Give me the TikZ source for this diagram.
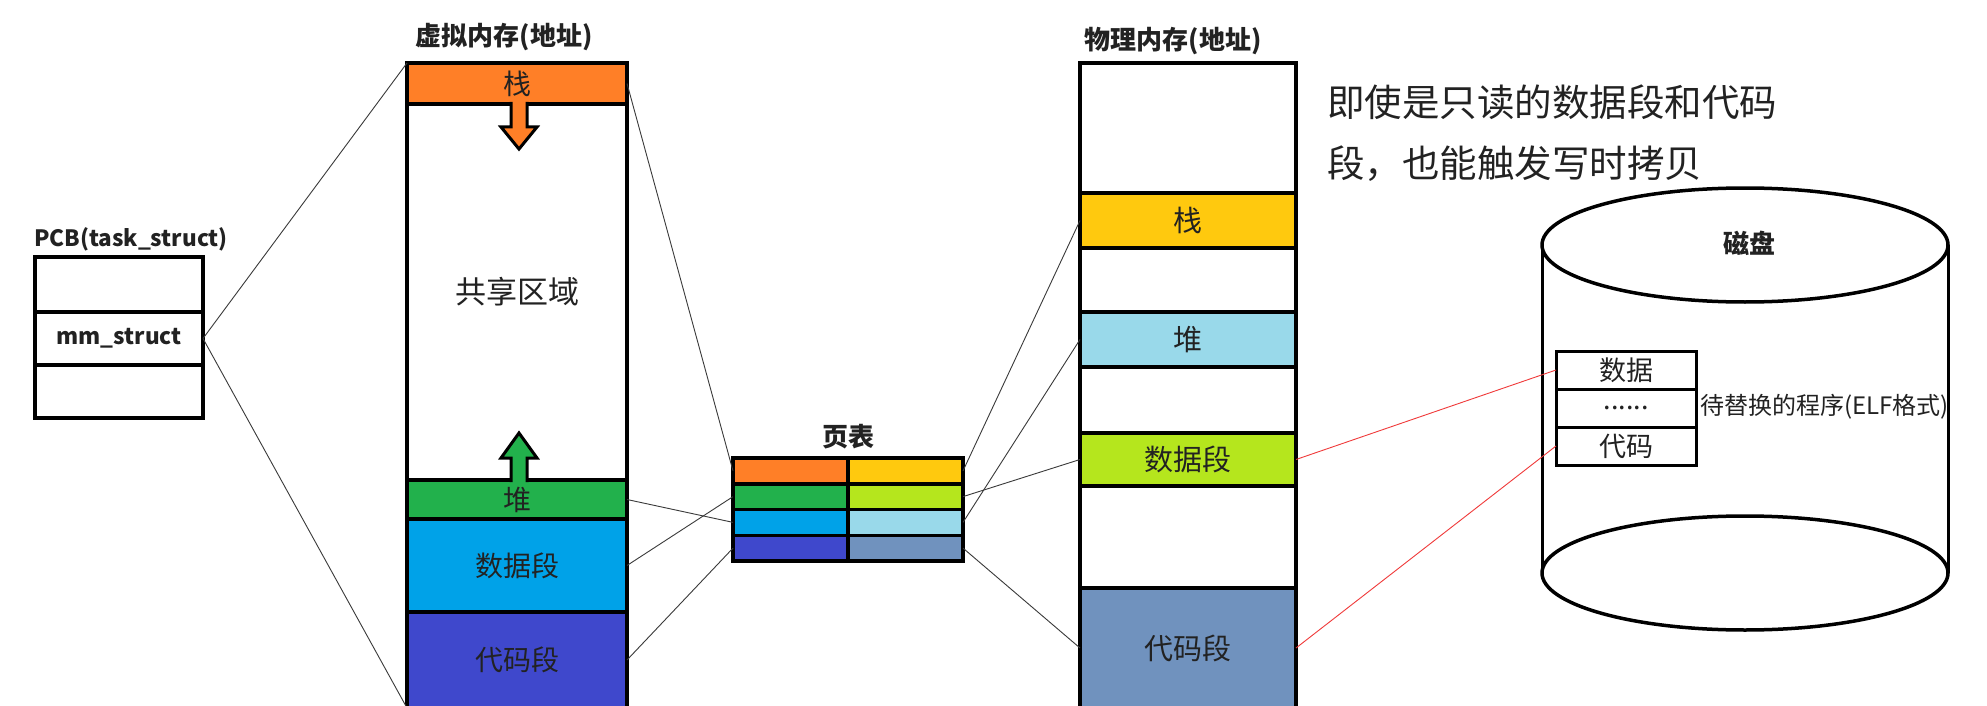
\documentclass[tikz,border=0pt]{standalone}
\usepackage{fontspec}
\setmainfont{Noto Sans CJK SC}
\usetikzlibrary{positioning}
\definecolor{PaintOrange}{HTML}{FF7F27}
\definecolor{PaintGold}{HTML}{FFC90E}
\definecolor{PaintGreen}{HTML}{22B14C}
\definecolor{PaintLime}{HTML}{B5E61D}
\definecolor{PaintCyan}{HTML}{00A2E8}
\definecolor{PaintSky}{HTML}{99D9EA}
\definecolor{PaintIndigo}{HTML}{3F48CC}
\definecolor{PaintSteel}{HTML}{7092BE}
\definecolor{InkGray}{HTML}{222222}
\definecolor{LinkGray}{HTML}{3A3A3A}
\definecolor{CowRed}{HTML}{F03A3A}

\begin{document}
\begin{tikzpicture}[x=1pt,y=-1pt,
    every node/.style={inner sep=0pt,outer sep=0pt,text=InkGray},
    seg/.style={draw,line width=3.5pt,minimum width=220pt,anchor=north west,font=\fontsize{28}{30}\selectfont},
    pseg/.style={seg,minimum width=216pt,font=\fontsize{29}{31}\selectfont},
    pcbrow/.style={draw,line width=3.5pt,minimum width=168pt,anchor=north west,font=\bfseries\fontsize{22.5}{26}\selectfont},
    cell/.style={draw,line width=3.5pt,minimum width=115pt,minimum height=25.75pt,anchor=north west},
    elfrow/.style={draw,line width=3pt,minimum width=140pt,minimum height=38pt,anchor=north west,font=\fontsize{27}{30}\selectfont},
    ttl/.style={font=\bfseries\fontsize{26}{30}\selectfont},
    growarrow/.style={draw=black,line width=3pt,line join=miter},
    link/.style={draw=LinkGray,line width=0.9pt},
    cow/.style={draw=CowRed,line width=0.9pt}
  ]
    \useasboundingbox[fill=white] (0,0) rectangle (1987,706);

    % virtual address space
    \node[ttl] (vtitle) at (504,37) {虚拟内存(地址)};
    \node[seg,fill=PaintOrange,minimum height=41pt] (vstack) at (407,63) {栈};
    \node[seg,below=0pt of vstack,minimum height=376pt,font=\fontsize{31}{34}\selectfont] (vshared) {共享区域};
    \node[seg,fill=PaintGreen,below=0pt of vshared,minimum height=39pt] (vheap) {堆};
    \node[seg,fill=PaintCyan,below=0pt of vheap,minimum height=93pt] (vdata) {数据段};
    \node[seg,fill=PaintIndigo,below=0pt of vdata,minimum height=96pt] (vcode) {代码段};
    \draw[growarrow,fill=PaintOrange] (511,102) -- (511,127) -- (501,127) -- (519,149) -- (537,127) -- (527,127) -- (527,102);
    \draw[growarrow,fill=PaintGreen] (511,482) -- (511,458) -- (501,458) -- (519,433) -- (537,458) -- (527,458) -- (527,482);

    % PCB
    \node[ttl,font=\bfseries\fontsize{22.5}{26}\selectfont] (pcbtitle) at (131,239) {PCB(task\_struct)};
    \node[pcbrow,minimum height=55pt] (pcb1) at (35,257) {};
    \node[pcbrow,below=0pt of pcb1,minimum height=53pt] (pcbmm) {\raisebox{-5pt}{mm\_struct}};
    \node[pcbrow,below=0pt of pcbmm,minimum height=53pt] (pcb3) {};

    % page table
    \node[ttl] (pttitle) at (848,437) {页表};
    \foreach \r/\lc/\rc in {1/PaintOrange/PaintGold,2/PaintGreen/PaintLime,3/PaintCyan/PaintSky,4/PaintIndigo/PaintSteel}{
      \node[cell,fill=\lc] (ptl\r) at (733,{458+(\r-1)*25.75}) {};
      \node[cell,fill=\rc,right=0pt of ptl\r] (ptr\r) {};
    }

    % physical memory
    \node[ttl] (ptitle) at (1173,41) {物理内存(地址)};
    \node[pseg,minimum height=130pt] (pfree1) at (1080,63) {};
    \node[pseg,fill=PaintGold,below=0pt of pfree1,minimum height=55pt] (pstack) {栈};
    \node[pseg,below=0pt of pstack,minimum height=64pt] (pfree2) {};
    \node[pseg,fill=PaintSky,below=0pt of pfree2,minimum height=55pt] (pheap) {堆};
    \node[pseg,below=0pt of pheap,minimum height=66pt] (pfree3) {};
    \node[pseg,fill=PaintLime,below=0pt of pfree3,minimum height=53pt] (pdata) {数据段};
    \node[pseg,below=0pt of pdata,minimum height=102pt] (pfree4) {};
    \node[pseg,fill=PaintSteel,below=0pt of pfree4,minimum height=120pt] (pcode) {代码段};

    \node[anchor=west,align=left,font=\fontsize{37.5}{61}\selectfont] (note) at (1327,133) {即使是只读的数据段和代码\\段，也能触发写时拷贝};

    % disk
    \draw[line width=3pt] (1542,245) -- (1542,573) (1948,245) -- (1948,573);
    \draw[line width=3.5pt,fill=white] (1745,245) ellipse [x radius=203,y radius=57];
    \draw[line width=3.5pt] (1745,573) ellipse [x radius=203,y radius=57];
    \node[ttl] (disk) at (1749,243) {磁盘};
    \node[elfrow] (ddata) at (1556,351) {数据};
    \node[elfrow,below=0pt of ddata] (ddots) {......};
    \node[elfrow,below=0pt of ddots] (dcode) {代码};
    \node[anchor=west,font=\fontsize{24}{28}\selectfont] (elf) at (1700,407) {待替换的程序(ELF格式)};

    % mappings
    \draw[link] (pcbmm.east) -- (vstack.north west);
    \draw[link] (pcbmm.east) -- (vcode.south west);
    \draw[link] (vstack.east) -- (ptl1.west);
    \draw[link] (vheap.east) -- (ptl3.west);
    \draw[link] (vdata.east) -- (ptl2.west);
    \draw[link] (vcode.east) -- (ptl4.west);
    \draw[link] (ptr1.east) -- (pstack.west);
    \draw[link] (ptr2.east) -- (pdata.west);
    \draw[link] (ptr3.east) -- (pheap.west);
    \draw[link] (ptr4.east) -- (pcode.west);
    \draw[cow] (pdata.east) -- (ddata.west);
    \draw[cow] (pcode.east) -- (dcode.west);
  \end{tikzpicture}
\end{document}
